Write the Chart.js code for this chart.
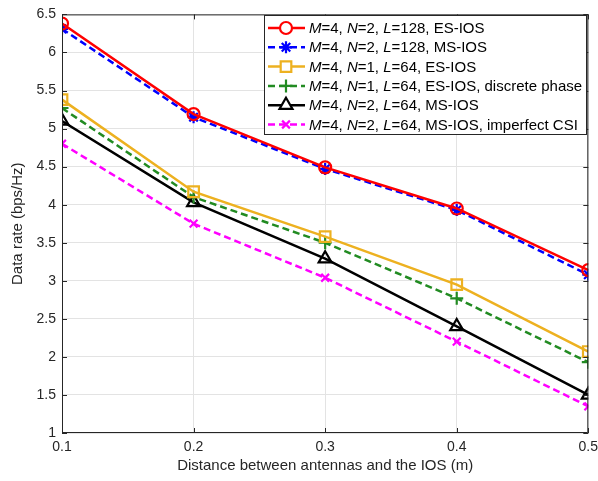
<!DOCTYPE html>
<html>
<head>
<meta charset="utf-8">
<script src="https://cdn.jsdelivr.net/npm/chart.js@4.4.1/dist/chart.umd.min.js"></script>
<style>
  html, body { margin: 0; padding: 0; background: #ffffff; }
  #wrap { width: 598px; height: 481px; position: relative; }
</style>
</head>
<body>
<div id="wrap"><canvas id="rateChart"></canvas></div>
<script>
// Distances (m)
const distances = [0.1, 0.2, 0.3, 0.4, 0.5];
const xTicks = [0.1, 0.2, 0.3, 0.4, 0.5];
const yTicks = [1, 1.5, 2, 2.5, 3, 3.5, 4, 4.5, 5, 5.5, 6, 6.5];

// Data rate (bps/Hz)
const esL128 = [6.38, 5.19, 4.49, 3.95, 3.14];
const msL128 = [6.31, 5.15, 4.47, 3.93, 3.08];
const esN1 = [5.38, 4.17, 3.58, 2.95, 2.07];
const esN1Discrete = [5.27, 4.10, 3.50, 2.77, 1.93];
const msL64 = [5.10, 4.03, 3.29, 2.40, 1.50];
const msL64Imperfect = [4.80, 3.75, 3.04, 2.20, 1.35];

// Legend labels: [text, italic] pieces
const legendLabels = [
    [['M', true], ['=4, ', false], ['N', true], ['=2, ', false], ['L', true], ['=128, ES-IOS', false]],
    [['M', true], ['=4, ', false], ['N', true], ['=2, ', false], ['L', true], ['=128, MS-IOS', false]],
    [['M', true], ['=4, ', false], ['N', true], ['=1, ', false], ['L', true], ['=64, ES-IOS', false]],
    [['M', true], ['=4, ', false], ['N', true], ['=1, ', false], ['L', true], ['=64, ES-IOS, discrete phase', false]],
    [['M', true], ['=4, ', false], ['N', true], ['=2, ', false], ['L', true], ['=64, MS-IOS', false]],
    [['M', true], ['=4, ', false], ['N', true], ['=2, ', false], ['L', true], ['=64, MS-IOS, imperfect CSI', false]]
];

const FONT = "'Liberation Sans', Arial, sans-serif";

function series(values, color, style, radius, dash) {
    return {
        data: distances.map((d, i) => ({ x: d, y: values[i] })),
        borderColor: color,
        backgroundColor: 'rgba(0,0,0,0)',
        borderWidth: 2.5,
        borderDash: dash || [],
        pointStyle: style,
        pointRadius: radius,
        pointBorderColor: color,
        pointBackgroundColor: 'rgba(0,0,0,0)',
        pointBorderWidth: 2.2,
        tension: 0,
        fill: false
    };
}

const datasets = [
    series(esL128, '#FF0000', 'circle', 6),
    series(msL128, '#0000FF', 'star', 6, [7, 4]),
    series(esN1, '#EDB120', 'rect', 7.5),
    series(esN1Discrete, '#228B22', 'cross', 6.5, [7, 4]),
    series(msL64, '#000000', 'triangle', 7.5),
    series(msL64Imperfect, '#FF00FF', 'crossRot', 5.5, [7, 4])
];

// Inward MATLAB-style ticks plus the box and the legend
const boxPlugin = {
    id: 'boxTicks',
    afterDatasetsDraw(chart) {
        const ctx = chart.ctx;
        const a = chart.chartArea;
        const xs = chart.scales.x, ys = chart.scales.y;
        ctx.save();
        ctx.strokeStyle = '#262626';
        ctx.lineWidth = 1;
        ctx.beginPath();
        ctx.rect(a.left + 0.5, a.top + 0.5, a.right - a.left - 1, a.bottom - a.top - 1);
        xTicks.forEach(v => {
            const px = Math.round(xs.getPixelForValue(v)) + 0.5;
            ctx.moveTo(px, a.bottom); ctx.lineTo(px, a.bottom - 5);
            ctx.moveTo(px, a.top); ctx.lineTo(px, a.top + 5);
        });
        yTicks.forEach(v => {
            const py = Math.round(ys.getPixelForValue(v)) + 0.5;
            ctx.moveTo(a.left, py); ctx.lineTo(a.left + 5, py);
            ctx.moveTo(a.right, py); ctx.lineTo(a.right - 5, py);
        });
        ctx.stroke();
        ctx.restore();
    },
    afterDraw(chart) {
        const ctx = chart.ctx;
        const bx = 264, by = 15, bw = 322, bh = 119;
        ctx.save();
        ctx.fillStyle = '#ffffff';
        ctx.fillRect(bx, by, bw, bh);
        ctx.strokeStyle = '#262626';
        ctx.lineWidth = 1;
        ctx.strokeRect(bx + 0.5, by + 0.5, bw, bh);
        const rowH = 19.3;
        legendLabels.forEach((parts, i) => {
            const ds = chart.data.datasets[i];
            const cy = by + 13 + i * rowH;
            ctx.strokeStyle = ds.borderColor;
            ctx.lineWidth = ds.borderWidth;
            ctx.setLineDash(ds.borderDash);
            ctx.beginPath();
            ctx.moveTo(268, cy);
            ctx.lineTo(305, cy);
            ctx.stroke();
            ctx.setLineDash([]);
            ctx.fillStyle = '#ffffff';
            ctx.lineWidth = ds.pointBorderWidth;
            Chart.helpers.drawPoint(ctx, {
                pointStyle: ds.pointStyle,
                radius: ds.pointRadius,
                borderWidth: ds.pointBorderWidth,
                rotation: 0
            }, 286, cy);
            let tx = 309;
            ctx.fillStyle = '#000000';
            ctx.textBaseline = 'middle';
            parts.forEach(([t, it]) => {
                ctx.font = (it ? 'italic ' : '') + '15px ' + FONT;
                ctx.fillText(t, tx, cy + 1);
                tx += ctx.measureText(t).width;
            });
        });
        ctx.restore();
    }
};

new Chart(document.getElementById('rateChart'), {
    type: 'line',
    data: { datasets: datasets },
    options: {
        responsive: true,
        maintainAspectRatio: false,
        animation: false,
        layout: { padding: { left: 0, right: 8, top: 12, bottom: 0 } },
        plugins: {
            legend: { display: false },
            tooltip: { enabled: false }
        },
        scales: {
            x: {
                type: 'linear',
                min: 0.1,
                max: 0.5,
                afterFit: s => { s.height = 48; s.paddingLeft = 0; s.paddingRight = 0; },
                afterBuildTicks: s => { s.ticks = xTicks.map(v => ({ value: v })); },
                grid: { color: '#e3e3e3', lineWidth: 1, drawTicks: false },
                border: { display: false },
                ticks: {
                    color: '#262626',
                    padding: 6,
                    font: { family: FONT, size: 14 },
                    callback: v => v.toFixed(1)
                },
                title: {
                    display: true,
                    text: 'Distance between antennas and the IOS (m)',
                    color: '#262626',
                    font: { family: FONT, size: 15 },
                    padding: { top: 0, bottom: 6 }
                }
            },
            y: {
                min: 1,
                max: 6.5,
                afterFit: s => { s.width = 62; },
                afterBuildTicks: s => { s.ticks = yTicks.map(v => ({ value: v })); },
                grid: { color: '#e3e3e3', lineWidth: 1, drawTicks: false },
                border: { display: false },
                ticks: {
                    color: '#262626',
                    padding: 6,
                    font: { family: FONT, size: 14 },
                    callback: v => String(v)
                },
                title: {
                    display: true,
                    text: 'Data rate (bps/Hz)',
                    color: '#262626',
                    font: { family: FONT, size: 15 },
                    padding: { top: 9, bottom: 0 }
                }
            }
        }
    },
    plugins: [boxPlugin]
});
</script>
</body>
</html>
